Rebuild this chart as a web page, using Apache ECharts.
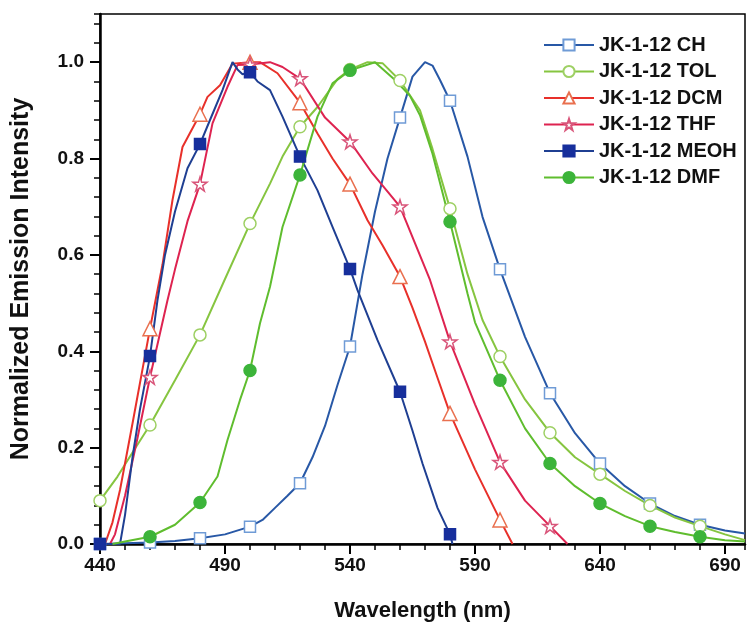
<!DOCTYPE html>
<html>
<head>
<meta charset="utf-8">
<script src="https://cdn.jsdelivr.net/npm/echarts@6/dist/echarts.min.js"></script>
<style>html,body{margin:0;padding:0;background:#fff;}#c{width:748px;height:632px;}</style>
</head>
<body>
<div id="c"></div>
<script>
// ---- data (wavelength in nm, normalized intensity) ----
const seriesNames = ['JK-1-12 CH','JK-1-12 TOL','JK-1-12 DCM','JK-1-12 THF','JK-1-12 MEOH','JK-1-12 DMF'];

const chX = [440,460,470,480,490,500,505,510,515,520,525,530,535,540,545,550,555,560,565,570,573,576,580,587,593,600,610,620,630,640,650,660,670,680,690,698];
const chY = [0,0.003,0.006,0.012,0.02,0.036,0.05,0.075,0.10,0.126,0.18,0.245,0.33,0.41,0.56,0.69,0.80,0.885,0.97,1.0,0.993,0.963,0.92,0.804,0.679,0.57,0.43,0.313,0.23,0.167,0.12,0.084,0.058,0.04,0.028,0.022];

const tolX = [440,447,453,460,470,480,490,500,508,513,520,527,535,540,547,553,560,568,573,580,587,593,600,610,620,630,640,650,660,670,680,690,698];
const tolY = [0.09,0.14,0.19,0.247,0.34,0.434,0.55,0.665,0.748,0.804,0.866,0.907,0.965,0.985,1.0,0.998,0.962,0.9,0.82,0.696,0.56,0.465,0.389,0.30,0.231,0.18,0.145,0.11,0.08,0.055,0.037,0.02,0.008];

const dcmX = [442,445,448,453,460,465,469,473,480,483,488,493,500,504,511,520,527,533,540,547,553,560,565,570,575,580,590,600,605];
const dcmY = [0,0.045,0.112,0.25,0.447,0.58,0.714,0.824,0.892,0.928,0.952,0.997,1.0,1.0,0.977,0.916,0.852,0.80,0.747,0.672,0.62,0.555,0.49,0.42,0.345,0.271,0.155,0.05,0];

const thfX = [444,446,450,455,460,467,470,475,480,485,491,495,500,508,513,520,530,540,549,560,572,580,590,600,610,620,627];
const thfY = [0,0.02,0.10,0.22,0.346,0.506,0.57,0.67,0.747,0.873,0.949,0.994,0.995,1.0,0.99,0.966,0.885,0.835,0.769,0.70,0.548,0.42,0.29,0.17,0.09,0.037,0];

const meohX = [440,448,450,453,456,460,463,466,470,475,480,484,489,493,495,497,500,503,508,513,520,527,533,540,543,551,560,565,569,575,580,581];
const meohY = [0,0,0.06,0.18,0.28,0.39,0.506,0.60,0.69,0.78,0.83,0.88,0.942,1.0,0.985,0.975,0.979,0.96,0.942,0.887,0.804,0.734,0.658,0.571,0.527,0.423,0.316,0.235,0.167,0.075,0.02,0];

const dmfX = [445,450,460,470,480,487,491,496,500,504,508,513,520,527,533,540,550,558,564,568,573,580,587,590,600,610,620,630,640,650,660,670,680,690,698];
const dmfY = [0,0.005,0.015,0.04,0.086,0.14,0.216,0.299,0.36,0.458,0.534,0.658,0.766,0.887,0.956,0.983,1.0,0.963,0.93,0.89,0.81,0.669,0.52,0.46,0.34,0.24,0.167,0.12,0.084,0.058,0.037,0.025,0.015,0.008,0.005];

const xTickLabels = [440,490,540,590,640,690];
const yTickLabels = [0.0,0.2,0.4,0.6,0.8,1.0];

// ---- build ----
const MARK_STEP = 20;
function build(xs, ys) {
  return xs.map((x, i) => (x % MARK_STEP === 0)
    ? { value: [x, ys[i]] }
    : { value: [x, ys[i]], symbol: 'none' });
}
const starPath = 'path://M50,2 L61,36 L97,36 L68,57 L79,92 L50,71 L21,92 L32,57 L3,36 L39,36 Z';

const styles = [
  { line: '#2858a6', symbol: 'rect', size: 11, fill: '#ffffff', border: '#6f9bd6' },
  { line: '#86c540', symbol: 'circle', size: 12, fill: '#ffffff', border: '#9ed064' },
  { line: '#e8302a', symbol: 'triangle', size: 14, fill: '#ffffff', border: '#e9704f' },
  { line: '#de2350', symbol: starPath, size: 14, fill: '#ffffff', border: '#d9557a' },
  { line: '#1f3f92', symbol: 'rect', size: 11, fill: '#172f9c', border: '#172f9c' },
  { line: '#5fbd2e', symbol: 'circle', size: 12, fill: '#3cb43a', border: '#3cb43a' }
];
const datas = [build(chX, chY), build(tolX, tolY), build(dcmX, dcmY), build(thfX, thfY), build(meohX, meohY), build(dmfX, dmfY)];

const series = seriesNames.map((n, i) => ({
  name: n,
  type: 'line',
  data: datas[i],
  xAxisIndex: 0, yAxisIndex: 0,
  showAllSymbol: true,
  symbol: styles[i].symbol,
  symbolSize: styles[i].size,
  lineStyle: { color: styles[i].line, width: 2 },
  itemStyle: { color: styles[i].fill, borderColor: styles[i].border, borderWidth: 1.5 },
  clip: true,
  animation: false
}));

const font = 'Liberation Sans, Arial, sans-serif';
const chart = echarts.init(document.getElementById('c'));
chart.setOption({
  backgroundColor: '#ffffff',
  animation: false,
  grid: { left: 100, right: 3, top: 14, bottom: 88, show: true, borderColor: '#000', borderWidth: 1.5, backgroundColor: 'transparent' },
  legend: {
    orient: 'vertical', left: 538, top: 30,
    itemWidth: 50, itemHeight: 14, itemGap: 6.5,
    textStyle: { fontFamily: font, fontWeight: 'bold', fontSize: 20, color: '#111' },
    data: seriesNames
  },
  xAxis: [
    {
      type: 'value', min: 440, max: 698, interval: 50,
      name: 'Wavelength (nm)', nameLocation: 'middle', nameGap: 56,
      nameTextStyle: { fontFamily: font, fontWeight: 'bold', fontSize: 22, color: '#111' },
      axisLine: { show: true, lineStyle: { color: '#000', width: 2.5 } },
      axisTick: { show: true, length: 10, lineStyle: { color: '#000', width: 2 } },
      axisLabel: { showMaxLabel: false, margin: 12, fontFamily: font, fontWeight: 'bold', fontSize: 19, color: '#111',
        formatter: v => xTickLabels.includes(v) ? String(v) : '' },
      splitLine: { show: false }
    },
    {
      type: 'value', min: 440, max: 698, interval: 10, position: 'bottom',
      axisLine: { show: false },
      axisTick: { show: true, length: 6, lineStyle: { color: '#000', width: 1.5 } },
      axisLabel: { show: false }, splitLine: { show: false }
    }
  ],
  yAxis: [
    {
      type: 'value', min: 0, max: 1.1, interval: 0.2,
      name: 'Normalized Emission Intensity', nameLocation: 'middle', nameGap: 66, nameRotate: 90,
      nameTextStyle: { fontFamily: font, fontWeight: 'bold', fontSize: 25, color: '#111' },
      axisLine: { show: true, lineStyle: { color: '#000', width: 2.5 } },
      axisTick: { show: true, length: 10, lineStyle: { color: '#000', width: 2 } },
      axisLabel: { showMaxLabel: false, margin: 16, fontFamily: font, fontWeight: 'bold', fontSize: 19, color: '#111',
        formatter: v => { const t = yTickLabels.find(y => Math.abs(y - v) < 1e-6); return t === undefined ? '' : t.toFixed(1); } },
      splitLine: { show: false }
    },
    {
      type: 'value', min: 0, max: 1.1, interval: 0.04, position: 'left',
      axisLine: { show: false },
      axisTick: { show: true, length: 6, lineStyle: { color: '#000', width: 1.5 } },
      axisLabel: { show: false }, splitLine: { show: false }
    }
  ],
  series: series
});
</script>
</body>
</html>
